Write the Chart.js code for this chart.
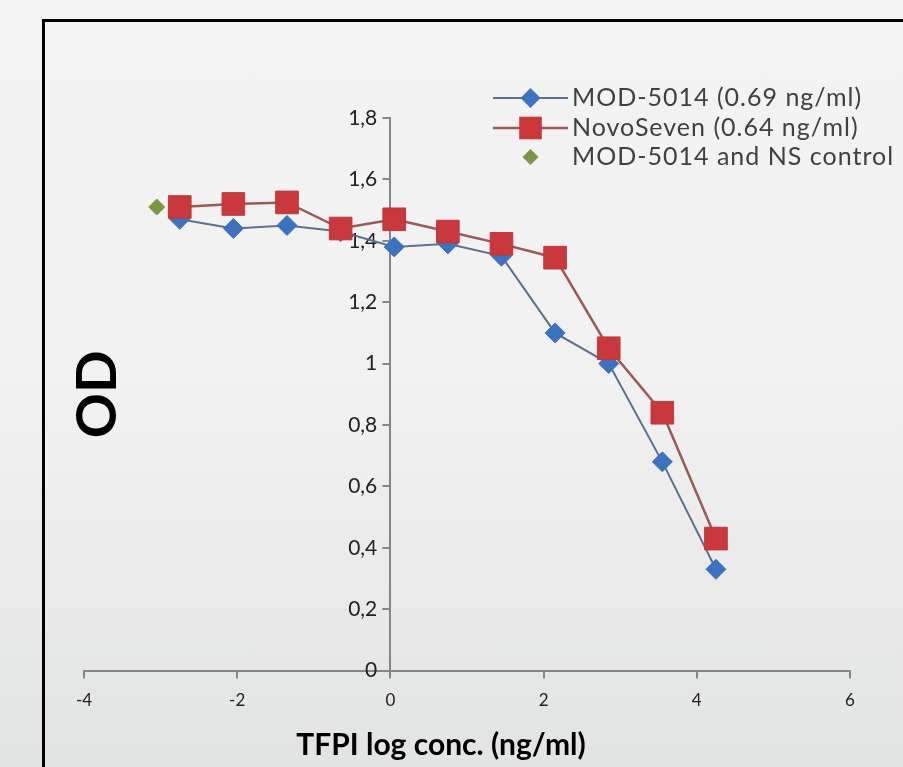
<!DOCTYPE html>
<html>
<head>
<meta charset="utf-8">
<script src="https://cdn.jsdelivr.net/npm/chart.js@4.4.0/dist/chart.umd.min.js"></script>
<style>
  html, body { margin: 0; padding: 0; }
  body {
    width: 903px; height: 767px; overflow: hidden; position: relative;
    background: linear-gradient(to bottom, #f3f3f3 0%, #f1f1f1 50%, #e2e3e3 100%);
  }
  #frame {
    position: absolute; left: 42px; top: 19px; width: 900px; height: 800px;
    border-left: 3px solid #000; border-top: 3px solid #000;
  }
  #wrap { position: absolute; left: 0; top: 0; width: 903px; height: 767px; }
</style>
</head>
<body>
<div id="frame"></div>
<div id="wrap"><canvas id="chart"></canvas></div>
<script>
// values
const logConc = [-2.75, -2.05, -1.35, -0.65, 0.05, 0.75, 1.45, 2.15, 2.85, 3.55, 4.25];
const mod5014 = [1.47, 1.44, 1.45, 1.43, 1.38, 1.39, 1.35, 1.10, 1.00, 0.68, 0.33];
const novoSeven = [1.51, 1.52, 1.525, 1.44, 1.47, 1.43, 1.39, 1.345, 1.05, 0.84, 0.43];
const controlX = [-3.05];
const controlY = [1.51];
const seriesNames = ['MOD-5014 (0.69 ng/ml)', 'NovoSeven (0.64 ng/ml)', 'MOD-5014 and NS control'];
const xTitle = 'TFPI log conc. (ng/ml)';
const yTitle = 'OD';

const font = 'Lato, "Open Sans", sans-serif';
const axisColor = '#868686';

function pairs(xs, ys) {
    return xs.map((x, i) => ({x: x, y: ys[i]}));
}

// y tick marks: the centred axis does not draw them itself
const yTickMarks = {
    id: 'yTickMarks',
    beforeDatasetsDraw(chart) {
        const ctx = chart.ctx;
        const ys = chart.scales.y;
        const ax = chart.scales.x.getPixelForValue(0);
        ctx.save();
        ctx.strokeStyle = axisColor;
        ctx.lineWidth = 2;
        ys.ticks.forEach(t => {
            const py = Math.round(ys.getPixelForValue(t.value));
            ctx.beginPath();
            ctx.moveTo(ax - 8, py);
            ctx.lineTo(ax, py);
            ctx.stroke();
        });
        ctx.restore();
    }
};

// legend and axis titles drawn by hand, Excel style
const extras = {
    id: 'extras',
    afterDraw(chart) {
        const ctx = chart.ctx;
        const area = chart.chartArea;
        ctx.save();

        const rows = [98, 128, 157];
        const lx = 493, len = 75;
        chart.data.datasets.forEach((ds, i) => {
            const y = rows[i];
            const cx = lx + len / 2;
            if (ds.showLine) {
                ctx.strokeStyle = ds.borderColor;
                ctx.lineWidth = ds.borderWidth;
                ctx.beginPath();
                ctx.moveTo(lx, y);
                ctx.lineTo(lx + len, y);
                ctx.stroke();
            }
            const r = ds.pointRadius;
            ctx.fillStyle = ds.pointBackgroundColor;
            ctx.beginPath();
            if (ds.pointStyle === 'rect') {
                const s = r * Math.SQRT1_2;
                ctx.rect(cx - s, y - s, 2 * s, 2 * s);
            } else {
                ctx.moveTo(cx, y - r);
                ctx.lineTo(cx + r, y);
                ctx.lineTo(cx, y + r);
                ctx.lineTo(cx - r, y);
                ctx.closePath();
            }
            ctx.fill();
            ctx.fillStyle = '#404040';
            ctx.font = '25px ' + font;
            ctx.letterSpacing = '1px';
            ctx.textAlign = 'left';
            ctx.textBaseline = 'middle';
            ctx.fillText(seriesNames[i], lx + len + 4, y);
            ctx.letterSpacing = '0px';
        });

        ctx.fillStyle = '#000';
        ctx.font = 'bold 30px ' + font;
        ctx.textAlign = 'center';
        ctx.textBaseline = 'middle';
        ctx.fillText(xTitle, 441, 745);

        ctx.translate(98, (area.top + area.bottom) / 2);
        ctx.rotate(-Math.PI / 2);
        ctx.font = 'bold 56px ' + font;
        ctx.fillText(yTitle, 0, 0);
        ctx.restore();
    }
};

new Chart(document.getElementById('chart'), {
    type: 'scatter',
    data: {
        datasets: [{
            label: seriesNames[0],
            data: pairs(logConc, mod5014),
            showLine: true,
            borderColor: '#5a7190',
            borderWidth: 2,
            pointStyle: 'rectRot',
            pointRadius: 10,
            pointBackgroundColor: '#3d72c0',
            pointBorderColor: '#3d72c0',
            pointBorderWidth: 1,
            order: 2,
        }, {
            label: seriesNames[1],
            data: pairs(logConc, novoSeven),
            showLine: true,
            borderColor: '#9c5955',
            borderWidth: 2.5,
            pointStyle: 'rect',
            pointRadius: 16,
            pointBackgroundColor: '#c8383c',
            pointBorderColor: '#b8393b',
            pointBorderWidth: 1,
            order: 1,
        }, {
            label: seriesNames[2],
            data: pairs(controlX, controlY),
            showLine: false,
            pointStyle: 'rectRot',
            pointRadius: 8,
            pointBackgroundColor: '#7b9744',
            pointBorderColor: '#7b9744',
            order: 3,
        }]
    },
    options: {
        responsive: true,
        maintainAspectRatio: false,
        animation: false,
        layout: {
            padding: {left: 84, right: 53, top: 118, bottom: 44}
        },
        plugins: {
            legend: {display: false},
            tooltip: {enabled: false},
        },
        scales: {
            x: {
                type: 'linear',
                position: 'bottom',
                min: -4,
                max: 6,
                ticks: {
                    stepSize: 2,
                    color: '#222',
                    font: {family: font, size: 17},
                    padding: 12,
                },
                grid: {drawOnChartArea: false, color: axisColor, tickLength: 8, lineWidth: 2},
                border: {color: axisColor, width: 2},
            },
            y: {
                position: {x: 0},
                min: 0,
                max: 1.8,
                ticks: {
                    stepSize: 0.2,
                    color: '#222',
                    font: {family: font, size: 21},
                    callback: v => String(Number(v.toFixed(1))).replace('.', ',') + '\u2002\u2009',
                },
                grid: {display: false},
                border: {color: axisColor, width: 2},
            }
        }
    },
    plugins: [yTickMarks, extras]
});
</script>
</body>
</html>
